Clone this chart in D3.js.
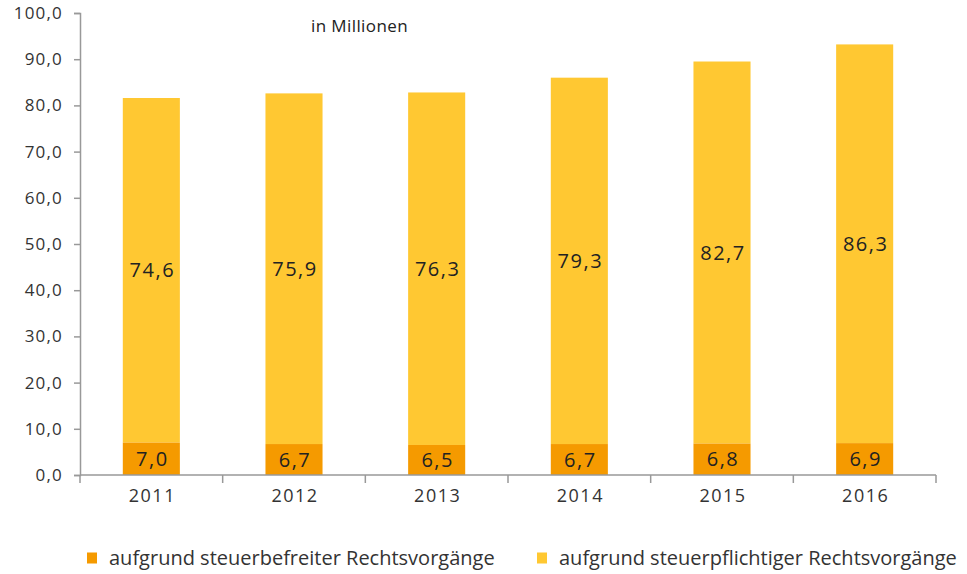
<!DOCTYPE html>
<html>
<head>
<meta charset="utf-8">
<script src="https://cdn.jsdelivr.net/npm/d3@7"></script>
<style>
  body { margin: 0; background: #fff; }
  svg { font-family: "Open Sans", "DejaVu Sans", sans-serif; }
</style>
</head>
<body>
<svg id="chart" width="967" height="574"></svg>
<script>
const years = ["2011", "2012", "2013", "2014", "2015", "2016"];
const befreit = [7.0, 6.7, 6.5, 6.7, 6.8, 6.9];
const pflichtig = [74.6, 75.9, 76.3, 79.3, 82.7, 86.3];
const yTicks = [0, 10, 20, 30, 40, 50, 60, 70, 80, 90, 100];
const seriesNames = ["aufgrund steuerbefreiter Rechtsvorgänge", "aufgrund steuerpflichtiger Rechtsvorgänge"];
const colors = ["#f59a00", "#ffc832"];

const FONT = '"Open Sans", "DejaVu Sans", sans-serif';
const svg = d3.select("#chart");
const mLeft = 80, mRight = 936, mTop = 13, mBottom = 475;

const x = d3.scaleBand().domain(years).range([mLeft, mRight]).paddingInner(0.6).paddingOuter(0.3);
const xEdges = d3.scaleLinear().domain([0, years.length]).range([mLeft, mRight]);
const y = d3.scaleLinear().domain([0, 100]).range([mBottom, mTop]);

const fmt = v => d3.format(".1f")(v).replace(".", ",");

const stacked = years.map((yr, i) => ({ yr, a: befreit[i], b: pflichtig[i] }));

// bars
const g = svg.append("g");
g.selectAll("rect.b").data(stacked).enter().append("rect")
  .attr("x", d => x(d.yr)).attr("width", x.bandwidth())
  .attr("y", d => y(d.a + d.b)).attr("height", d => y(d.a) - y(d.a + d.b))
  .attr("fill", colors[1]);
g.selectAll("rect.a").data(stacked).enter().append("rect")
  .attr("x", d => x(d.yr)).attr("width", x.bandwidth())
  .attr("y", d => y(d.a)).attr("height", d => y(0) - y(d.a))
  .attr("fill", colors[0]);

// value labels
const valLabel = sel => sel
  .attr("dy", "0.35em").attr("text-anchor", "middle")
  .attr("font-size", 20).attr("letter-spacing", 1.5).attr("fill", "#222");
g.selectAll("text.b").data(stacked).enter().append("text")
  .attr("x", d => x(d.yr) + x.bandwidth() / 2 + 1)
  .attr("y", d => y(d.a + d.b / 2))
  .call(valLabel)
  .text(d => fmt(d.b));
g.selectAll("text.a").data(stacked).enter().append("text")
  .attr("x", d => x(d.yr) + x.bandwidth() / 2 + 1)
  .attr("y", d => y(d.a / 2))
  .call(valLabel)
  .text(d => fmt(d.a));

// y axis
const yAxis = svg.append("g").attr("transform", `translate(${mLeft},0)`)
  .call(d3.axisLeft(y).tickValues(yTicks).tickFormat(fmt).tickSize(6).tickPadding(11));
yAxis.attr("font-family", FONT);
yAxis.selectAll("text").attr("font-size", 17).attr("letter-spacing", 1.2).attr("fill", "#333");

// x axis
const xAxis = svg.append("g").attr("transform", `translate(0,${mBottom})`)
  .call(d3.axisBottom(x).tickSize(0).tickPadding(14));
xAxis.attr("font-family", FONT);
xAxis.selectAll("text").attr("font-size", 18).attr("letter-spacing", 1.5).attr("fill", "#333")
  .attr("dx", 1);
xAxis.select(".domain").remove();
xAxis.append("line").attr("x1", mLeft).attr("x2", mRight).attr("stroke", "#999").attr("stroke-width", 1.5);
xAxis.selectAll("line.sep").data(d3.range(years.length + 1)).enter().append("line")
  .attr("x1", i => xEdges(i)).attr("x2", i => xEdges(i))
  .attr("y1", 0).attr("y2", 8).attr("stroke", "#999").attr("stroke-width", 1.5);

svg.selectAll(".domain, .tick line").attr("stroke", "#999").attr("stroke-width", 1.5);

// note
svg.append("text").attr("x", 311).attr("y", 32).attr("font-size", 17).attr("letter-spacing", 0.4)
  .attr("fill", "#222").text("in Millionen");

// legend
const legendX = [87, 537];
seriesNames.forEach((name, i) => {
  const lg = svg.append("g").attr("transform", `translate(${legendX[i]},558)`);
  lg.append("rect").attr("x", 0).attr("y", -5.5).attr("width", 10).attr("height", 11).attr("fill", colors[i]);
  lg.append("text").attr("x", 22).attr("y", 0).attr("dy", "0.35em")
    .attr("font-size", 20).attr("fill", "#333").text(name);
});
</script>
</body>
</html>
